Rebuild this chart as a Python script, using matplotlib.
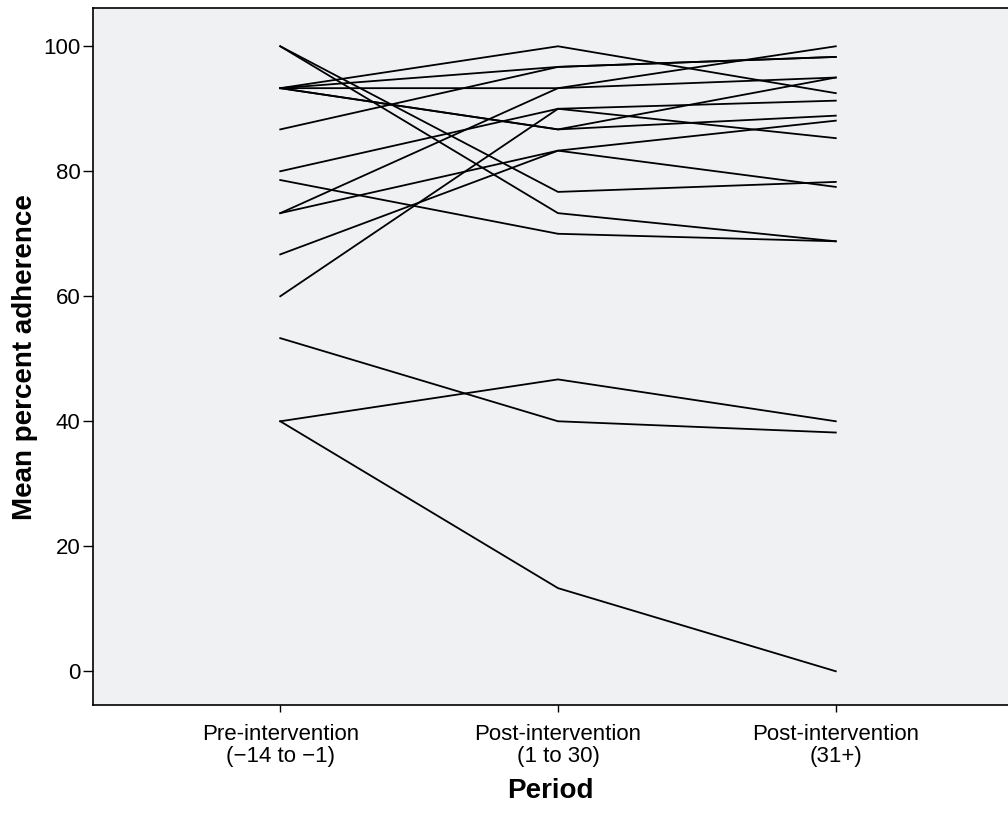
import matplotlib
matplotlib.use("Agg")
import matplotlib.pyplot as plt

# periods on the x axis
periods = ["Pre-intervention\n(\u221214 to \u22121)",
           "Post-intervention\n(1 to 30)",
           "Post-intervention\n(31+)"]

# mean percent adherence per participant, one value per period
pre = [93.3, 93.3, 86.7, 93.3, 73.3, 80.0, 60.0, 93.3, 93.3,
       73.3, 66.7, 100.0, 100.0, 78.6, 53.3, 40.0, 40.0]
post_1_30 = [100.0, 96.7, 96.7, 93.3, 93.3, 90.0, 90.0, 86.7, 86.7,
             83.3, 83.3, 76.7, 73.3, 70.0, 40.0, 46.7, 13.3]
post_31 = [92.5, 98.3, 98.3, 95.0, 100.0, 91.3, 85.3, 95.0, 88.9,
           88.1, 77.5, 78.3, 68.8, 68.8, 38.2, 40.0, 0.0]

yticks = [0, 20, 40, 60, 80, 100]

plt.rcParams['font.family'] = ['Liberation Sans', 'DejaVu Sans']

fig = plt.figure(figsize=(10.08, 8.16), dpi=100)
ax = fig.add_axes([0.0923, 0.136, 0.9077, 0.854])
ax.set_facecolor('#f0f1f3')

xs = list(range(len(periods)))
for a, b, c in zip(pre, post_1_30, post_31):
    ax.plot(xs, [a, b, c], color='black', lw=1.3, solid_joinstyle='miter')

ax.set_xlim(-0.674, 2.62)
ax.set_ylim(-5.4, 106.1)
ax.set_yticks(yticks)
ax.set_xticks(xs)
ax.set_xticklabels(periods, fontsize=16, linespacing=1.05)
ax.tick_params(axis='y', labelsize=16, length=7, width=1, direction='out', pad=2)
ax.tick_params(axis='x', length=5, width=1, direction='out', pad=9)

for side in ['left', 'bottom', 'top']:
    ax.spines[side].set_linewidth(1.2)
ax.spines['right'].set_visible(False)

ax.set_ylabel('Mean percent adherence', fontsize=20, fontweight='bold', labelpad=4)
ax.set_xlabel('Period', fontsize=20, fontweight='bold', labelpad=8)

plt.savefig('out.png', dpi=100)
